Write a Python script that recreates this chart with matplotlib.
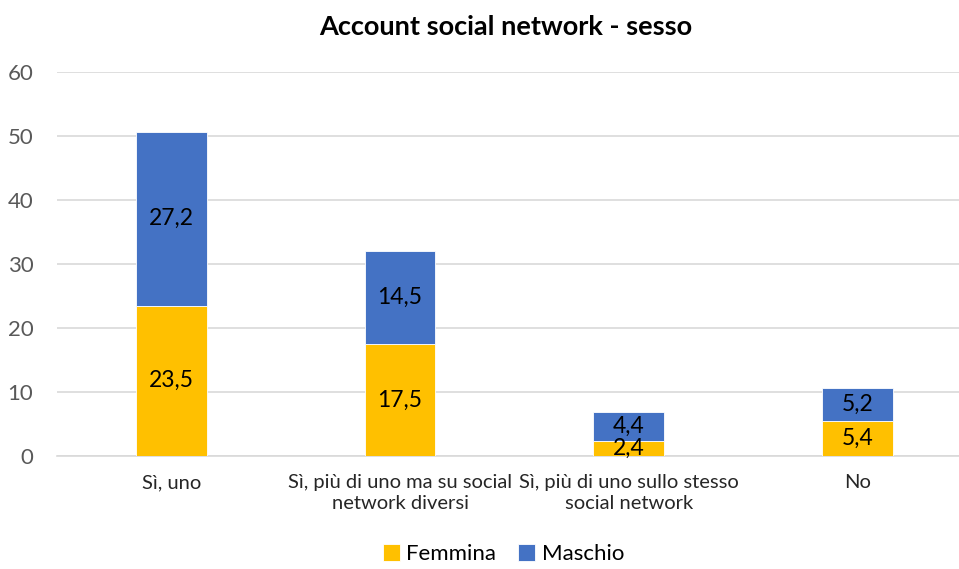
import numpy as np
import matplotlib.pyplot as plt

plt.rcParams['font.family'] = ['Lato', 'DejaVu Sans']

# data
categories = ['Sì, uno', 'Sì, più di uno ma su social\nnetwork diversi',
              'Sì, più di uno sullo stesso\nsocial network', 'No']
femmina = [23.5, 17.5, 2.4, 5.4]
maschio = [27.2, 14.5, 4.4, 5.2]

col_f = '#FFC000'
col_m = '#4472C4'

fig = plt.figure(figsize=(9.59, 5.69), dpi=100)
ax = fig.add_axes([57/959, 113/569, 902/959, 384/569])

x = np.arange(len(categories))
w = 0.31
b1 = ax.bar(x, femmina, w, color=col_f, edgecolor='white', linewidth=0.6, label='Femmina', zorder=3)
b2 = ax.bar(x, maschio, w, bottom=femmina, color=col_m, edgecolor='white', linewidth=0.6, label='Maschio', zorder=3)

def fmt(v):
    return f'{v:.1f}'.replace('.', ',')

for bars, vals in ((b1, femmina), (b2, maschio)):
    for r, v in zip(bars, vals):
        ax.text(r.get_x() + r.get_width() / 2, r.get_y() + r.get_height() / 2, fmt(v),
                ha='center', va='center', fontsize=16.5, color='black', zorder=4)

ax.set_xlim(-0.5, -0.5 + 902/228.7)
ax.set_ylim(0, 60)
ax.set_yticks(range(0, 61, 10))
ax.set_xticks(x)
ax.set_xticklabels(categories, fontsize=14.5, color='#262626', linespacing=1.3)
ax.tick_params(axis='y', labelsize=16, colors='#595959', length=0, pad=17)
ax.tick_params(axis='x', length=0, pad=13)
ax.grid(axis='y', color='#d9d9d9', linewidth=1.2, zorder=0)
for s in ['top', 'right', 'left']:
    ax.spines[s].set_visible(False)
ax.spines['bottom'].set_color('#d9d9d9')
ax.spines['bottom'].set_linewidth(1.2)

fig.text(0.527, 0.952, 'Account social network - sesso', ha='center', va='center',
         fontsize=19.5, fontweight='bold', color='black')

fig.legend(handles=[b1, b2], loc='center', bbox_to_anchor=(0.525, 0.026), ncol=2,
           frameon=False, fontsize=16, handlelength=0.75, handleheight=0.75,
           handletextpad=0.3, columnspacing=1.0, borderpad=0.2)

fig.savefig('out.png', dpi=100)
